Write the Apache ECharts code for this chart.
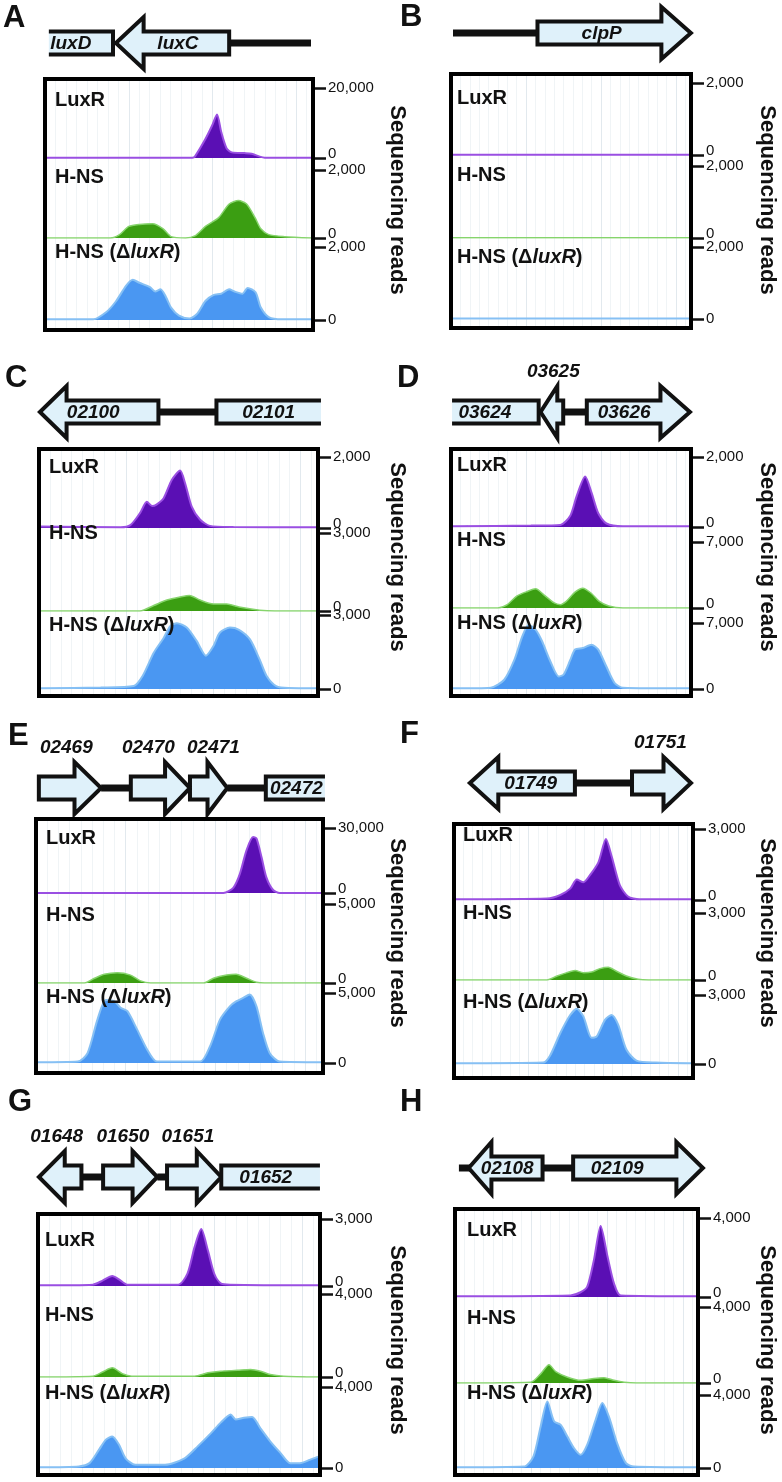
<!DOCTYPE html>
<html><head><meta charset="utf-8">
<script src="https://cdn.jsdelivr.net/npm/echarts@6/dist/echarts.min.js"></script>
<style>html,body{margin:0;padding:0;background:#fff}#c{width:782px;height:1482px}</style>
</head><body><div id="c"></div>
<script>
// ---------- DATA (x: position across the window 0-100, y: sequencing reads) ----------
const trackNames = ['LuxR', 'H-NS', 'H-NS (ΔluxR)'];

const A_max = [20000, 2000, 2000];
const A_luxR = [[0,100],[55,100],[56,400],[60,5400],[62.5,9200],[64.4,12400],[66,7400],[68,2800],[70,1600],[75,1400],[77.5,1200],[80.6,400],[82.5,100],[100,100]];
const A_hns = [[0,0],[24,0],[27.5,100],[31,340],[35,400],[40,420],[44,270],[47,40],[52.5,0],[56,60],[60,340],[65,600],[69,1000],[72.5,1100],[75.6,1000],[78.8,600],[81,270],[84,100],[90,40],[100,0]];
const A_dluxR = [[0,20],[17.5,20],[22.5,220],[26,500],[30,940],[32.5,1100],[35,1020],[39,900],[41,780],[43,840],[45,640],[47,340],[50,120],[54,40],[57,180],[60,520],[63,680],[66,720],[69,840],[71,780],[74,720],[76,880],[79,760],[81,340],[84,80],[89,20],[100,20]];

const B_max = [2000, 2000, 2000];
const B_luxR = [[0,10],[50,10],[100,10]];
const B_hns = [[0,5],[50,5],[100,5]];
const B_dluxR = [[0,15],[50,15],[100,15]];

const C_max = [2000, 3000, 3000];
const C_luxR = [[0,40],[29,20],[32.5,80],[36,420],[38.5,740],[40.4,620],[42,660],[44.6,840],[47.6,1360],[50.6,1620],[52.4,1260],[54.8,600],[57.8,240],[61.4,60],[70,30],[100,20]];
const C_hns = [[0,0],[36,0],[41,210],[45.8,420],[50.6,540],[54,600],[57.8,420],[62.7,270],[67.5,270],[72,150],[79.5,30],[85,0],[100,0]];
const C_dluxR = [[0,30],[21.7,60],[33.7,120],[37,540],[41,1470],[44.6,2070],[47,2550],[49.4,2670],[53,2490],[56.6,1950],[60,1350],[62.7,1740],[65,2280],[68.7,2490],[72,2400],[76,2010],[79.5,1200],[82,540],[85.5,120],[90,40],[100,30]];

const D_max = [2000, 7000, 7000];
const D_luxR = [[0,20],[33,40],[45.5,60],[49.7,320],[52.4,880],[56,1440],[58.7,980],[61.5,400],[65,100],[72,20],[100,20]];
const D_hns = [[0,0],[19,0],[23,350],[27,1260],[31.5,1750],[35,2030],[38.5,1400],[42.7,560],[45.5,350],[48,700],[51.7,1680],[55,2100],[58.7,1540],[62,700],[66,210],[72,0],[100,0]];
const D_dluxR = [[0,70],[16,140],[21.7,980],[26,3080],[29.4,5600],[32,6790],[35,6300],[37.8,5040],[41,3080],[44.8,1330],[46.9,1540],[49.7,3080],[51.7,4200],[55,4340],[58.7,4690],[61.5,4200],[65,2380],[68.5,630],[72,140],[100,70]];

const E_max = [30000, 5000, 5000];
const E_luxR = [[0,0],[65.5,0],[69,2400],[71.3,8700],[73.7,19800],[76,25800],[77.2,25200],[79,16500],[80.7,7200],[83,1500],[85.4,0],[100,0]];
const E_hns = [[0,0],[16.4,0],[20,300],[23.4,550],[28,650],[32.7,500],[36,150],[39.8,0],[58.5,0],[62,300],[66.7,500],[70,550],[73.7,300],[77.2,50],[80,0],[100,0]];
const E_dluxR = [[0,50],[14,100],[17.5,700],[21,3100],[24,4500],[27,4400],[29.2,3950],[31.6,3700],[35,2400],[38.6,950],[42,100],[57.3,100],[60.8,1200],[64.3,3100],[67.8,4050],[70,4400],[72.5,4650],[74.8,4900],[77.2,4050],[79.5,2150],[81.9,700],[85.4,100],[100,50]];

const F_max = [3000, 3000, 3000];
const F_luxR = [[0,30],[38.7,60],[44.4,210],[48.6,480],[51.4,870],[54.2,750],[57,1050],[60.6,1590],[63.8,2580],[66.2,1860],[69.7,630],[73.2,150],[78,30],[100,30]];
const F_hns = [[0,0],[38.7,0],[43,180],[47.2,330],[50.7,420],[54.2,330],[57.7,360],[61.3,510],[64.8,570],[68.3,390],[72.5,180],[77.5,30],[82,0],[100,0]];
const F_dluxR = [[0,30],[37,60],[40,360],[44.4,1350],[48.6,2130],[51.4,2400],[54.2,2070],[57.7,1140],[59.9,1200],[63.4,1920],[66.2,2130],[69,1710],[72.5,630],[76.8,150],[85,60],[100,30]];

const G_max = [3000, 4000, 4000];
const G_luxR = [[0,30],[19,60],[22.5,240],[26,450],[28.4,300],[31.4,60],[49.7,60],[53,540],[55.6,1740],[58,2550],[60.4,1590],[62.7,540],[65,120],[68.6,60],[100,30]];
const G_hns = [[0,0],[19,40],[22.5,240],[26,440],[29.6,160],[33,40],[55.6,40],[60.4,200],[65,280],[71,320],[75.7,360],[79.3,280],[82.8,120],[87.6,40],[100,0]];
const G_dluxR = [[0,40],[14,80],[17.8,240],[21.3,920],[23.7,1400],[26,1560],[28.4,1160],[30.8,480],[34.3,160],[45,160],[52,480],[56.8,1080],[61.5,1720],[65,2240],[68.6,2640],[70.4,2400],[73.4,2480],[76.3,2520],[79.3,1960],[82.8,1320],[86.4,760],[90,240],[93.5,240],[97,400],[100,560]];

const H_max = [4000, 4000, 4000];
const H_luxR = [[0,40],[47.5,80],[51.7,240],[54.5,520],[57.3,1880],[60.1,3600],[63,2040],[65.7,680],[68.5,80],[100,40]];
const H_hns = [[0,0],[30.8,40],[35,480],[38.5,960],[41.3,600],[46,320],[51.7,140],[57.3,240],[61.5,280],[65.7,140],[70,40],[75,0],[100,0]];
const H_dluxR = [[0,40],[28,80],[32,640],[35,2280],[37.8,3640],[40.6,2560],[43.4,2360],[46.2,1720],[49,1080],[51.7,720],[54.5,1280],[58,2640],[60.8,3560],[63.6,2800],[67,1360],[70.6,280],[74,80],[100,40]];

// gene maps: [kind, x1, x2, headBase, name, labelX, labelMode]
const A_genes = [['line',69,100],['openL',0.7,25,null,'luxD',9,'in'],['L',26.1,69,36.6,'luxC',49.6,'in']];
const B_genes = [['line',0,35.8],['R',35.8,100.8,88.3,'clpP',63,'in']];
const C_genes = [['line',42.7,63.8],['L',-0.4,42.7,9.3,'02100',19,'in'],['openR',63.8,101.8,null,'02101',82.8,'in']];
const D_genes = [['line',46.7,56.7],['openL',-0.4,36.3,null,'03624',13.5,'in'],['L',37.1,46.7,44.2,'03625',42.5,'above'],['R',56.7,100.4,87.9,'03626',72.5,'in']];
const E_genes = [['line',22.3,32.8],['line',66.9,80.5],['R',0.3,22.3,12.9,'02469',10,'above'],['R',32.8,53.7,44.9,'02470',39,'above'],['R',53.7,66.9,59.9,'02471',62,'above'],['openR',80.5,101.4,null,'02472',91.3,'in']];
const F_genes = [['line',50.6,74.9],['L',5.9,50.6,18,'01749',31.8,'in'],['R',74.9,100,88.3,'01751',87,'above']];
const G_genes = [['line',14.9,22.7],['line',42.2,45.7],['L',-0.4,14.9,8.9,'01648',6,'above'],['R',22.7,42.2,33.3,'01650',29.8,'above'],['R',45.7,65.2,56.4,'01651',53.2,'above'],['openR',65.2,100.7,null,'01652',81.2,'in']];
const H_genes = [['line',0.8,6],['line',35.8,48.6],['L',4.9,35.8,14.4,'02108',21,'in'],['R',48.6,102.9,91.8,'02109',67,'in']];

// ---------- LAYOUT ----------
const panels = [
  {id:'A', data:[A_luxR,A_hns,A_dluxR], max:A_max, genes:A_genes, box:[43,77,315,332], ticks:[88,158,170,238,247,320], letter:[3,18], geneY:43, labelX:55, labelY:[100,177,252], seqX:397, seqY:200},
  {id:'B', data:[B_luxR,B_hns,B_dluxR], max:B_max, genes:B_genes, box:[449,72,693,330], ticks:[83,155,166,238,247,319], letter:[400,17], geneY:33, labelX:457, labelY:[98,175,257], seqX:767, seqY:200},
  {id:'C', data:[C_luxR,C_hns,C_dluxR], max:C_max, genes:C_genes, box:[37,447,320,698], ticks:[457,528,533,611,615,689], letter:[5,378], geneY:412, labelX:49, labelY:[467,533,625], seqX:397, seqY:557},
  {id:'D', data:[D_luxR,D_hns,D_dluxR], max:D_max, genes:D_genes, box:[449,447,693,698], ticks:[457,527,542,608,623,689], letter:[397,378], geneY:412, labelX:457, labelY:[465,540,623], seqX:767, seqY:557},
  {id:'E', data:[E_luxR,E_hns,E_dluxR], max:E_max, genes:E_genes, box:[34,817,325,1075], ticks:[828,893,904,983,993,1063], letter:[8,736], geneY:788, labelX:46, labelY:[838,915,997], seqX:397, seqY:933},
  {id:'F', data:[F_luxR,F_hns,F_dluxR], max:F_max, genes:F_genes, box:[452,822,695,1080], ticks:[829,900,913,980,995,1064], letter:[400,734], geneY:783, labelX:463, labelY:[835,913,1002], seqX:767, seqY:933},
  {id:'G', data:[G_luxR,G_hns,G_dluxR], max:G_max, genes:G_genes, box:[36,1212,322,1477], ticks:[1219,1286,1294,1377,1387,1468], letter:[8,1102], geneY:1177, labelX:45, labelY:[1240,1315,1393], seqX:397, seqY:1340},
  {id:'H', data:[H_luxR,H_hns,H_dluxR], max:H_max, genes:H_genes, box:[453,1207,700,1477], ticks:[1218,1297,1307,1383,1395,1468], letter:[400,1102], geneY:1168, labelX:467, labelY:[1230,1318,1393], seqX:767, seqY:1340}
];

const colors = [
  {fill:'#5a0fb4', line:'#9a4fe2', w:2},
  {fill:'#3b9e12', line:'#86d46c', w:1.5},
  {fill:'#4a97f2', line:'#86c0f4', w:2}
];
const FONT = '"Liberation Sans", Arial, Helvetica, sans-serif';

function geneRenderer(genes) {
  return function (params, api) {
    const g = genes[params.dataIndex];
    const [kind, x1, x2, xh, label, lx, mode] = g;
    const y = api.coord([0, 0])[1];
    const X = v => api.coord([v, 0])[0];
    const bh = 11.5, hh = 26;
    const sty = {fill:'#dff1fa', stroke:'#111', lineWidth:4, lineJoin:'miter'};
    const ch = [];
    if (kind === 'line') {
      ch.push({type:'line', shape:{x1:X(x1), y1:y, x2:X(x2), y2:y}, style:{stroke:'#111', lineWidth:7}});
    } else if (kind === 'R') {
      const a = X(x1), h = X(xh), t = X(x2);
      ch.push({type:'polygon', shape:{points:[[a,y-bh],[h,y-bh],[h,y-hh],[t,y],[h,y+hh],[h,y+bh],[a,y+bh]]}, style:sty});
    } else if (kind === 'L') {
      const t = X(x1), h = X(xh), e = X(x2);
      ch.push({type:'polygon', shape:{points:[[e,y-bh],[h,y-bh],[h,y-hh],[t,y],[h,y+hh],[h,y+bh],[e,y+bh]]}, style:sty});
    } else if (kind === 'openL' || kind === 'openR') {
      const a = X(x1), e = X(x2);
      ch.push({type:'rect', shape:{x:a, y:y-bh, width:e-a, height:2*bh}, style:{fill:'#dff1fa'}});
      const pts = kind === 'openL' ? [[a,y-bh],[e,y-bh],[e,y+bh],[a,y+bh]] : [[e,y-bh],[a,y-bh],[a,y+bh],[e,y+bh]];
      ch.push({type:'polyline', shape:{points:pts}, style:{stroke:'#111', lineWidth:4, fill:null, lineJoin:'miter'}});
    }
    if (label) {
      ch.push({type:'text', style:{text:label, x:X(lx), y: mode === 'above' ? y - 40 : y + 1, align:'center', verticalAlign:'middle',
        font:'italic bold 19px ' + FONT, fill:'#111'}});
    }
    return {type:'group', children:ch};
  };
}

const grid = [], xAxis = [], yAxis = [], series = [], graphic = [];
panels.forEach(p => {
  const [L, T, R, B] = p.box;
  // frame grid (faint vertical gridlines)
  let gi = grid.length;
  grid.push({left:L+2, top:T+2, width:R-L-4, height:B-T-4});
  xAxis.push({gridIndex:gi, type:'value', min:0, max:100, interval:31.25, axisLine:{show:false, onZero:false}, axisTick:{show:false}, axisLabel:{show:false},
    splitLine:{show:true, lineStyle:{color:'#e2e9ee', width:1}}, minorTick:{show:false, splitNumber:8}, minorSplitLine:{show:true, lineStyle:{color:'#f0f4f6', width:1}}});
  yAxis.push({gridIndex:gi, type:'value', min:0, max:1, show:false, axisLine:{onZero:false}});

  for (let k = 0; k < 3; k++) {
    const top = p.ticks[2*k], bot = p.ticks[2*k+1];
    const g = grid.length;
    grid.push({left:L+4, top:top, width:R-L-8, height:bot-top});
    xAxis.push({gridIndex:g, type:'value', min:0, max:100, show:false, axisLine:{onZero:false}});
    yAxis.push({gridIndex:g, type:'value', position:'right', min:0, max:p.max[k], interval:p.max[k],
      axisLine:{show:false, onZero:false}, splitLine:{show:false},
      axisTick:{show:true, inside:false, length:15, lineStyle:{color:'#111', width:2.5}},
      axisLabel:{show:true, margin:17, color:'#111', fontSize:15, fontFamily:FONT,
        formatter: v => { const s = v.toLocaleString('en-US'); return (v === 0 && k < 2) ? '{u|' + s + '}' : s; },
        rich:{u:{padding:[0,0,8,0], fontSize:15, fontFamily:FONT, color:'#111'}}}});
    const c = colors[k];
    series.push({type:'line', xAxisIndex:g, yAxisIndex:g, data:p.data[k], smooth:0.25, symbol:'none', showSymbol:false,
      lineStyle:{color:c.line, width:c.w}, areaStyle:{color:c.fill, opacity:1}, silent:true, z:3});
    // track label
    const txt = k === 2 ? '{a|H-NS (Δ}{b|luxR}{a|)}' : '{a|' + trackNames[k] + '}';
    graphic.push({type:'text', x:p.labelX, y:p.labelY[k], z:10, style:{text:txt, align:'left', verticalAlign:'middle',
      rich:{a:{fontSize:20, fontWeight:'bold', fontFamily:FONT, fill:'#111'}, b:{fontSize:20, fontWeight:'bold', fontStyle:'italic', fontFamily:FONT, fill:'#111'}}}});
  }

  // gene map grid
  const gg = grid.length;
  grid.push({left:L+4, top:p.geneY-30, width:R-L-8, height:60});
  xAxis.push({gridIndex:gg, type:'value', min:0, max:100, show:false, axisLine:{onZero:false}});
  yAxis.push({gridIndex:gg, type:'value', min:-1, max:1, show:false, axisLine:{onZero:false}});
  series.push({type:'custom', xAxisIndex:gg, yAxisIndex:gg, clip:false, silent:true, z:5,
    data:p.genes.map(g => [g[1], g[2]]), renderItem:geneRenderer(p.genes)});

  // box outline
  graphic.push({type:'rect', z:50, shape:{x:L+2, y:T+2, width:R-L-4, height:B-T-4}, style:{fill:null, stroke:'#000', lineWidth:4}});
  // panel letter
  graphic.push({type:'text', x:p.letter[0], y:p.letter[1], style:{text:p.id, align:'left', verticalAlign:'middle', font:'bold 31px ' + FONT, fill:'#111'}});
  // axis title
  graphic.push({type:'text', x:p.seqX, y:p.seqY, rotation:-Math.PI/2, style:{text:'Sequencing reads', align:'center', verticalAlign:'middle', font:'bold 22px ' + FONT, fill:'#111'}});
});

const chart = echarts.init(document.getElementById('c'), null, {renderer:'canvas'});
chart.setOption({animation:false, backgroundColor:'#fff', grid, xAxis, yAxis, series, graphic});
</script>
</body></html>
